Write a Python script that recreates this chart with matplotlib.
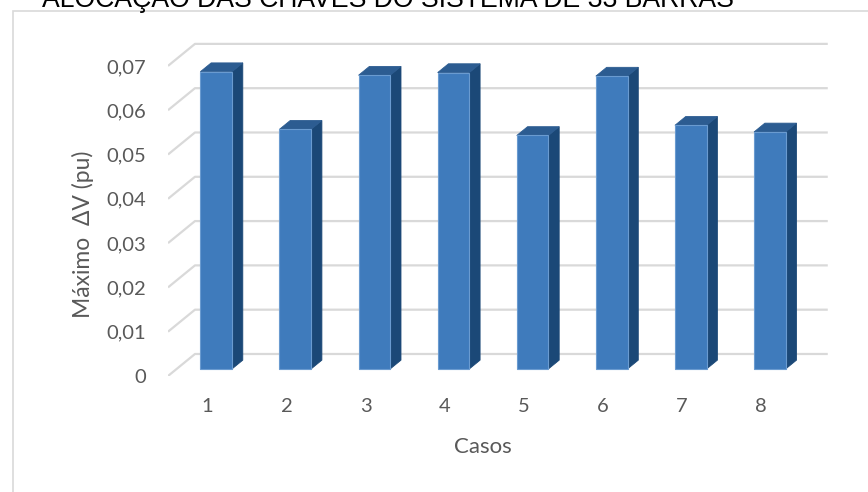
import matplotlib
matplotlib.use("Agg")
import matplotlib.pyplot as plt
from matplotlib.patches import Polygon, Rectangle

# data
casos = [1, 2, 3, 4, 5, 6, 7, 8]
max_dv = [0.0671, 0.0541, 0.0663, 0.0669, 0.0527, 0.0661, 0.0550, 0.0535]
y_ticks = [0, 0.01, 0.02, 0.03, 0.04, 0.05, 0.06, 0.07]
y_tick_labels = ["0", "0,01", "0,02", "0,03", "0,04", "0,05", "0,06", "0,07"]

title = "ALOCAÇÃO DAS CHAVES DO SISTEMA DE 33 BARRAS"

# fake 3D depth (data units): floor front -> back wall
DX = 0.341
DY = 0.00497
F_FRONT, F_BACK = 0.32, 0.72  # bar depth position
BAR_W = 0.40

FRONT = "#3f7bbc"
SIDE = "#1b4877"
TOP = "#2c5c91"
EDGE = "#6a9bd0"
GRID = "#d9d9d9"
TXT = "#595959"

plt.rcParams['font.family'] = ['Lato', 'DejaVu Sans']

fig = plt.figure(figsize=(8.68, 4.92), dpi=100)
ax = fig.add_axes([168 / 868, 1 - 376 / 492, 660 / 868, 336 / 492])
ax.set_xlim(0.5, 0.5 + 660 / 79.1)
ax.set_ylim(0, 336 / 4430)

# chart frame
fig.patches.append(Rectangle((12.5 / 868, -0.1), 2, 1 - 10.5 / 492 + 0.1,
                             transform=fig.transFigure, fill=False,
                             edgecolor=GRID, lw=1.2))

# back wall gridlines + floor diagonals
x0 = 0.5
x1 = 0.5 + len(casos)
for v in y_ticks:
    ax.plot([x0, x0 + DX, x1 + DX], [v, v + DY, v + DY], color=GRID, lw=1.6,
            zorder=1, solid_capstyle='butt')

for x, v in zip(casos, max_dv):
    xl = x - BAR_W / 2
    xr = x + BAR_W / 2
    fx, fy = F_FRONT * DX, F_FRONT * DY
    bx, by = F_BACK * DX, F_BACK * DY
    side = [(xr + fx, fy), (xr + bx, by), (xr + bx, v + by), (xr + fx, v + fy)]
    top = [(xl + fx, v + fy), (xr + fx, v + fy), (xr + bx, v + by), (xl + bx, v + by)]
    front = [(xl + fx, fy), (xr + fx, fy), (xr + fx, v + fy), (xl + fx, v + fy)]
    ax.add_patch(Polygon(side, closed=True, facecolor=SIDE, edgecolor=SIDE, lw=0.6, zorder=3))
    ax.add_patch(Polygon(top, closed=True, facecolor=TOP, edgecolor=TOP, lw=0.6, zorder=3))
    ax.add_patch(Polygon(front, closed=True, facecolor=FRONT, edgecolor=EDGE, lw=0.8, zorder=4))

ax.set_yticks(y_ticks)
ax.set_yticklabels(y_tick_labels)
ax.set_xticks(casos)
ax.set_xticklabels([str(c) for c in casos])
ax.tick_params(axis='y', length=0, pad=16, labelsize=14.5, labelcolor=TXT)
ax.tick_params(axis='x', length=0, pad=16, labelsize=14.5, labelcolor=TXT)
for s in ax.spines.values():
    s.set_visible(False)
ax.patch.set_visible(False)

fig.text(83 / 868, 1 - 234 / 492, "Máximo  ΔV (pu)", rotation=90, ha='center',
         va='center', fontsize=16.5, color=TXT)
fig.text(483 / 868, 1 - 447 / 492, "Casos", ha='center', va='center',
         fontsize=16, color=TXT)

# title sits partly above the top edge, as in the reference
fig.text(42 / 868, 1 - 7 / 492, title, ha='left', va='baseline',
         fontsize=19.2, color='black', family=['Liberation Sans', 'DejaVu Sans'])

fig.savefig("out.png", dpi=100)
